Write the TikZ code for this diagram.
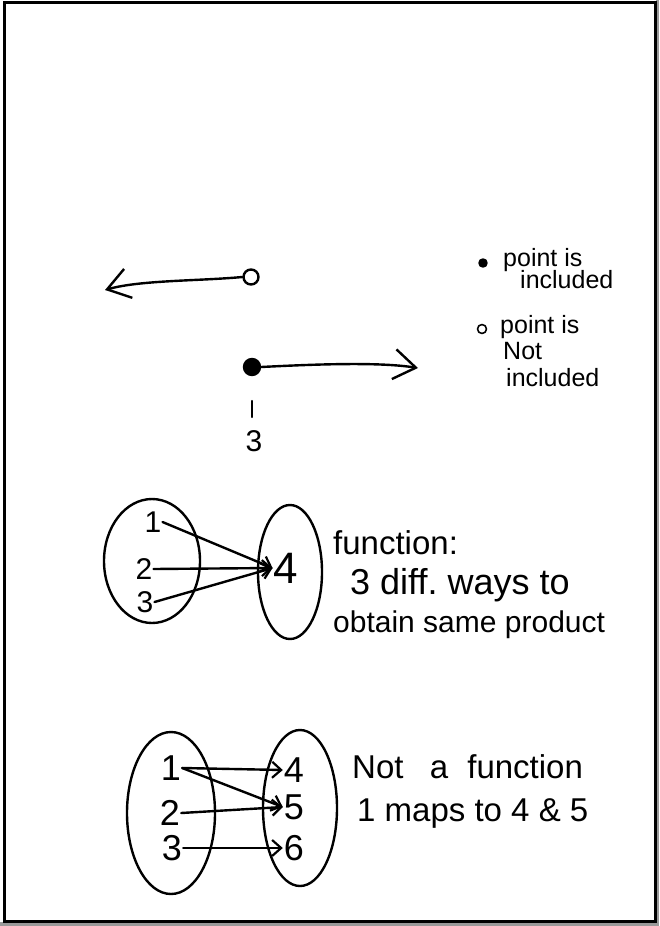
\documentclass[tikz,border=0pt]{standalone}
\usepackage{fontspec}
\setmainfont{Liberation Sans}
\usetikzlibrary{shapes.geometric,arrows.meta}
\tikzset{
  ink/.style={line width=2.4pt, line cap=round, line join=round, draw=black},
  barb/.style={ink, -{Straight Barb[length=9pt,width=16pt,line width=2.2pt]}},
  bigbarb/.style={ink, -{Straight Barb[length=22pt,width=30pt,line width=2.4pt]}},
  oval/.style={ink, ellipse, inner sep=0pt},
  digit/.style={font=\fontsize{30}{30}\selectfont, inner sep=1pt},
  bigdigit/.style={font=\fontsize{36}{36}\selectfont, inner sep=1pt},
  note/.style={font=\fontsize{33}{36}\selectfont, anchor=west, inner sep=0pt},
  legend/.style={font=\fontsize{25}{25}\selectfont, anchor=west, inner sep=0pt},
}
\begin{document}
\begin{tikzpicture}[x=1pt,y=-1pt]
\useasboundingbox (0,0) rectangle (659,926);
\fill[gray!80] (0,0) rectangle (659,926);
\fill[white] (0,0) rectangle (656,922);
\draw[line width=3pt] (4,2.5) rectangle (655.5,921.5);

% number line: open point
\node[ink, circle, minimum size=15pt, inner sep=0pt] (oc) at (251,277) {};
\coordinate (lend) at (105,290);
\draw[bigbarb] (oc.west) .. controls (200,281) and (140,280) .. (lend);

% closed point
\node[ink, circle, fill=black, minimum size=16pt, inner sep=0pt] (fc) at (252,367) {};
\coordinate (rend) at (418,368);
\draw[bigbarb] (fc.east) .. controls (320,364) and (380,362) .. (rend);
\coordinate (tk1) at (252,401);
\coordinate (tk2) at (252,417);
\draw[ink] (tk1) -- (tk2);
\node[digit] (three) at (254,441) {3};

% legend
\node[ink, circle, fill=black, minimum size=7pt, inner sep=0pt] (ld1) at (483,263) {};
\node[legend] (lt1) at (503,260) {point is};
\node[legend] (lt2) at (520,280) {included};
\node[ink, circle, line width=1.6pt, minimum size=9pt, inner sep=0pt] (ld2) at (482,329) {};
\node[legend] (lt3) at (500,327) {point is};
\node[legend] (lt4) at (503,351) {Not};
\node[legend] (lt5) at (506,378) {included};

% function diagram
\node[oval, minimum width=96pt, minimum height=124pt] (A) at (152,561) {};
\node[oval, minimum width=64pt, minimum height=134pt] (B) at (290,572) {};
\node[digit] (a1) at (153,522) {1};
\node[digit] (a2) at (144,569) {2};
\node[digit] (a3) at (145,602) {3};
\node[font=\fontsize{44}{44}\selectfont, inner sep=1pt] (b4) at (286,568) {4};
\draw[barb] (a1.east) -- (b4.west);
\draw[barb] (a2.east) -- (b4.west);
\draw[barb] (a3.east) -- (b4.west);
\node[note] (f1) at (333,543) {function:};
\node[note, font=\fontsize{36}{36}\selectfont] (f2) at (350,585) {3 diff.\ ways to};
\node[note, font=\fontsize{30}{36}\selectfont] (f3) at (333,625) {obtain same product};

% not a function
\node[oval, minimum width=88pt, minimum height=162pt] (C) at (171,813) {};
\node[oval, minimum width=74pt, minimum height=156pt] (D) at (300,808) {};
\node[bigdigit] (c1) at (171,768) {1};
\node[bigdigit] (c2) at (170,813) {2};
\node[bigdigit] (c3) at (172,848) {3};
\node[bigdigit] (d4) at (294,770) {4};
\node[bigdigit] (d5) at (294,807) {5};
\node[bigdigit] (d6) at (294,848) {6};
\draw[barb] (c1.east) -- (d4.west);
\draw[barb] (c1.east) -- (d5.west);
\draw[barb] (c2.east) -- (d5.west);
\draw[barb] (c3.east) -- (d6.west);
\node[note] (g1) at (352,767) {Not\hspace{0.8em}a\hspace{0.3em} function};
\node[note] (g2) at (357,813) {1 maps to 4 \& 5};
\end{tikzpicture}
\end{document}
